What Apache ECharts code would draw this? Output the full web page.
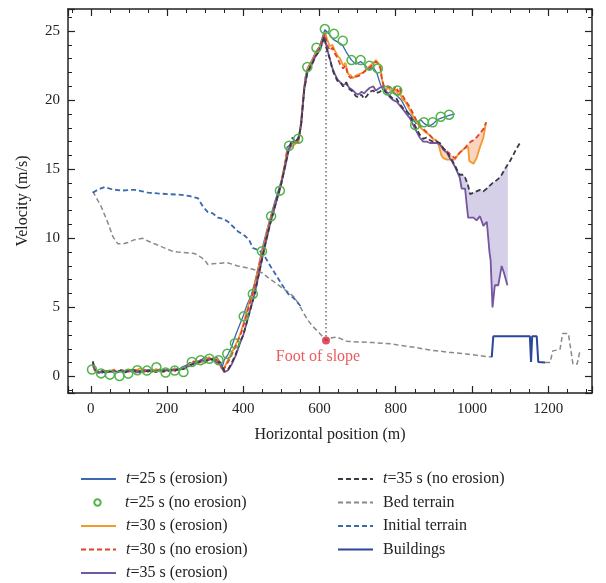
<!DOCTYPE html>
<html><head><meta charset="utf-8">
<script src="https://cdn.jsdelivr.net/npm/echarts@6/dist/echarts.min.js"></script>
<style>html,body{margin:0;padding:0;background:#fff}#c{width:606px;height:583px}</style>
</head><body><div id="c"></div>
<script>
const FONT = '"Liberation Serif", "DejaVu Serif", serif';

// ---------- DATA ----------
const t25Erosion = [[5,1.0],[10,0.5],[15,0.3],[20,0.35],[30,0.25],[40,0.4],[50,0.3],[60,0.45],[70,0.3],[80,0.5],[90,0.35],[100,0.4],[110,0.3],[120,0.5],[130,0.4],[140,0.35],[150,0.5],[160,0.4],[170,0.45],[180,0.35],[190,0.5],[200,0.45],[210,0.4],[220,0.6],[230,0.5],[240,0.7],[250,0.8],[260,1.0],[270,0.9],[280,1.1],[290,1.2],[300,1.4],[310,1.3],[320,1.2],[330,1.4],[340,1.0],[345,0.7],[350,1.2],[360,1.6],[370,2.2],[380,3.0],[390,3.7],[400,4.4],[410,5.2],[420,5.8],[430,6.8],[440,8.0],[450,9.3],[460,10.4],[470,11.4],[480,12.4],[490,13.3],[500,14.2],[510,15.5],[515,16.6],[520,16.7],[530,16.9],[540,17.1],[548,17.6],[555,19.5],[562,21.6],[568,22.3],[580,22.9],[590,23.5],[600,23.9],[607,24.5],[614,25.1],[625,24.8],[636,24.4],[648,24.2],[660,24.0],[672,23.4],[684,22.9],[696,22.6],[708,22.8],[720,22.5],[730,22.2],[740,22.4],[750,22.0],[758,21.3],[765,20.8],[780,20.5],[792,20.7],[804,20.3],[815,20.0],[830,19.2],[842,18.8],[853,18.3],[865,18.6],[875,18.3],[887,18.1],[899,18.3],[910,18.6],[919,18.7],[930,18.8],[940,18.9],[955,19.0]];

const t25NoErosion = [[3,0.5],[27,0.22],[50,0.13],[75,0.03],[98,0.2],[122,0.45],[147,0.42],[172,0.66],[196,0.28],[220,0.42],[243,0.32],[265,1.05],[288,1.18],[311,1.28],[335,1.18],[358,1.64],[378,2.4],[401,4.35],[425,5.97],[449,9.07],[473,11.6],[496,13.45],[520,16.7],[544,17.2],[568,22.4],[592,23.8],[614,25.15],[638,24.8],[661,24.3],[684,22.9],[708,22.9],[731,22.5],[753,22.3],[779,20.7],[804,20.7],[851,18.2],[874,18.4],[897,18.4],[918,18.8],[940,18.95]];

// [x, t=30 s erosion, t=30 s no erosion]
const t30Rows = [[5,0.8,0.9],[10,0.4,0.5],[20,0.25,0.3],[30,0.4,0.35],[40,0.3,0.4],[50,0.35,0.3],[60,0.5,0.45],[70,0.3,0.35],[80,0.45,0.4],[90,0.3,0.45],[100,0.5,0.35],[110,0.35,0.5],[120,0.45,0.4],[130,0.6,0.45],[140,0.35,0.5],[150,0.45,0.35],[160,0.3,0.45],[170,0.55,0.4],[180,0.4,0.5],[190,0.3,0.4],[200,0.5,0.45],[210,0.4,0.55],[220,0.55,0.4],[230,0.45,0.5],[240,0.6,0.55],[250,0.7,0.75],[260,0.9,0.8],[270,1.0,1.1],[280,1.1,1.0],[290,1.0,1.2],[300,1.2,1.1],[310,1.4,1.3],[320,1.1,1.2],[330,1.3,1.2],[340,0.9,0.8],[346,0.45,0.4],[355,0.9,0.8],[365,1.5,1.3],[375,2.0,1.9],[385,2.6,2.5],[395,3.3,3.2],[405,4.3,4.1],[415,5.3,5.1],[425,6.0,6.0],[435,7.2,7.1],[445,8.5,8.4],[455,9.6,9.5],[465,10.8,10.7],[475,11.7,11.6],[485,12.6,12.6],[495,13.5,13.4],[505,14.8,14.7],[515,16.3,16.2],[525,16.6,16.7],[535,16.8,16.9],[545,17.0,17.0],[552,18.5,18.3],[560,21.0,20.9],[568,22.2,22.1],[580,22.8,22.7],[590,23.4,23.3],[600,23.8,23.8],[607,24.3,24.3],[614,24.9,24.8],[620,24.4,24.0],[627,23.9,23.6],[634,24.0,23.8],[640,23.6,23.4],[648,23.2,23.0],[654,23.0,22.6],[662,22.5,22.3],[668,22.7,22.5],[675,21.9,21.8],[682,21.8,21.6],[688,21.6,21.7],[697,21.8,21.7],[706,21.9,21.8],[715,22.0,22.0],[724,22.3,22.2],[733,22.5,22.4],[741,22.7,22.6],[748,22.9,22.8],[754,22.7,22.6],[760,22.4,22.3],[763,21.6,21.7],[768,21.0,21.1],[772,20.7,20.9],[780,20.9,21.0],[793,20.5,20.7],[800,20.8,21.0],[807,20.3,20.6],[811,20.6,20.9],[816,20.1,20.4],[825,19.9,20.0],[837,19.3,19.5],[846,18.8,19.0],[855,18.4,18.5],[865,18.0,18.1],[877,17.7,17.8],[888,17.5,17.5],[898,17.2,17.2],[905,17.1,17.1],[912,16.8,16.9],[920,16.0,16.7],[925,15.8,16.5],[934,15.7,16.3],[942,15.7,16.1],[955,15.7,15.8],[962,16.0,16.0],[968,16.2,16.2],[980,16.5,16.5],[990,16.6,16.8],[993,15.6,16.9],[997,15.5,17.0],[1004,15.4,17.1],[1012,15.8,17.3],[1021,16.6,17.6],[1030,17.3,17.9],[1037,18.4,18.4]];

// [x, t=35 s erosion, t=35 s no erosion]
const t35Rows = [[5,1.0,1.1],[10,0.5,0.6],[15,0.4,0.35],[20,0.25,0.3],[30,0.4,0.35],[40,0.3,0.25],[50,0.35,0.4],[60,0.4,0.3],[70,0.3,0.35],[80,0.4,0.45],[90,0.35,0.3],[100,0.45,0.4],[110,0.4,0.5],[120,0.3,0.35],[130,0.4,0.3],[140,0.35,0.45],[150,0.45,0.35],[160,0.4,0.5],[170,0.35,0.3],[180,0.5,0.45],[190,0.35,0.4],[200,0.45,0.35],[210,0.4,0.5],[220,0.5,0.4],[230,0.45,0.55],[240,0.55,0.5],[250,0.7,0.6],[260,0.75,0.8],[270,1.0,0.9],[280,0.9,1.0],[290,1.2,1.1],[300,1.1,1.0],[310,1.2,1.3],[320,1.3,1.2],[330,1.0,1.1],[340,0.9,1.0],[350,0.3,0.4],[360,0.45,0.5],[370,0.9,1.0],[380,1.5,1.6],[390,2.3,2.4],[400,3.0,3.0],[410,4.0,4.0],[420,5.0,5.0],[430,6.0,6.0],[440,7.3,7.3],[450,8.6,8.6],[460,9.8,9.9],[470,11.0,11.0],[480,12.0,12.0],[490,13.0,13.0],[500,14.0,14.0],[510,15.2,15.3],[520,16.5,16.5],[529,17.0,17.3],[535,17.0,17.0],[545,17.2,17.2],[552,18.3,18.3],[560,20.8,20.8],[568,22.0,22.0],[580,22.6,22.6],[590,23.2,23.2],[600,23.6,23.6],[607,24.1,24.1],[612,24.6,24.6],[620,23.7,23.6],[627,23.0,23.0],[634,22.3,22.2],[640,21.9,21.8],[647,21.5,21.4],[654,21.3,21.3],[662,21.1,21.0],[670,21.2,21.3],[678,20.9,20.8],[688,20.7,20.6],[695,20.5,20.3],[702,20.4,20.2],[710,20.6,20.4],[717,20.5,20.1],[724,20.7,20.3],[732,20.9,20.6],[741,21.0,20.7],[748,20.7,20.5],[758,20.9,20.6],[766,21.0,20.8],[776,20.6,20.5],[785,20.2,20.3],[793,20.0,20.1],[802,19.9,20.1],[811,19.6,19.7],[820,19.3,19.4],[828,19.0,19.2],[837,18.7,18.9],[846,18.2,18.4],[855,17.7,17.9],[863,17.3,17.5],[872,17.0,17.2],[881,17.0,17.3],[890,16.9,17.1],[898,16.9,17.0],[907,16.9,17.0],[916,16.8,16.9],[925,16.4,16.5],[934,16.2,16.3],[942,15.8,15.9],[947,15.6,15.7],[955,15.2,15.3],[960,14.9,15.0],[968,14.4,14.6],[973,13.6,14.5],[977,13.6,14.6],[982,13.6,14.4],[986,12.5,14.3],[990,11.5,13.8],[995,11.5,13.2],[1004,11.5,13.3],[1012,11.3,13.4],[1021,11.6,13.5],[1030,10.9,13.4],[1039,11.2,13.6],[1046,9.0,13.8],[1049,8.4,13.9],[1054,5.0,14.0],[1060,6.6,14.1],[1069,6.6,14.3],[1078,8.0,14.6],[1084,7.5,14.9],[1093,6.6,15.3],[1100,null,15.6],[1108,null,16.0],[1115,null,16.4],[1126,null,16.9]];

const bedTerrain = [[5,13.4],[15,12.9],[27,12.3],[45,11.1],[58,10.1],[71,9.6],[85,9.6],[97,9.7],[115,9.9],[136,10.0],[150,9.8],[167,9.6],[185,9.4],[202,9.2],[215,9.05],[228,9.0],[250,8.95],[272,8.9],[285,8.7],[298,8.45],[307,8.1],[320,8.15],[342,8.2],[355,8.25],[368,8.15],[385,8.0],[403,7.9],[420,7.8],[438,7.65],[452,7.45],[465,7.15],[483,6.8],[500,6.45],[518,6.1],[535,5.7],[550,5.0],[560,4.5],[570,4.05],[583,3.6],[596,3.25],[606,2.95],[617,2.6],[632,2.8],[645,2.85],[658,2.7],[671,2.55],[700,2.5],[740,2.45],[785,2.37],[811,2.25],[850,2.1],[898,1.88],[940,1.75],[986,1.62],[1020,1.5],[1052,1.4],[1120,null],[1192,1.0],[1205,1.0],[1212,1.85],[1231,1.95],[1238,3.1],[1253,3.1],[1265,0.9],[1276,0.9],[1283,1.8]];

const initialTerrain = [[5,13.3],[20,13.55],[36,13.7],[55,13.55],[80,13.45],[100,13.5],[115,13.5],[135,13.4],[150,13.3],[175,13.25],[202,13.2],[237,13.15],[260,13.05],[281,12.9],[294,12.3],[307,11.9],[320,11.8],[333,11.5],[348,11.4],[360,11.2],[375,10.8],[386,10.5],[403,10.2],[415,9.9],[425,9.3],[443,9.1],[458,8.6],[473,7.9],[487,7.3],[500,6.7],[510,6.3],[517,6.0],[535,5.6],[550,5.1]];

const buildings = [[1052,1.4],[1056,2.9],[1152,2.9],[1155,1.05],[1158,2.9],[1170,2.9],[1174,1.05],[1192,1.0]];

const footOfSlope = [617, 2.6];
const peakVelocity = 25.1;
const fill30From = 905;
const fill35From = 942;

const names = ['t=25 s (erosion)','t=25 s (no erosion)','t=30 s (erosion)','t=30 s (no erosion)','t=35 s (erosion)','t=35 s (no erosion)','Bed terrain','Initial terrain','Buildings'];

// ---------- derived ----------
const t30E = t30Rows.map(r => [r[0], r[1]]);
const t30N = t30Rows.map(r => [r[0], r[2]]);
const t35E = t35Rows.map(r => [r[0], r[1]]);
const t35N = t35Rows.map(r => [r[0], r[2]]);
const f30 = t30Rows.filter(r => r[0] >= fill30From);
const f35 = t35Rows.filter(r => r[0] >= fill35From && r[1] != null);

const C = {
  t25e:'#3a68b2', t25n:'#52b34a', t30e:'#f19b2c', t30n:'#e2402d', t35e:'#75569f', t35n:'#3a3a46',
  bed:'#8a8a8a', init:'#3b69b0', bld:'#2b479c'
};

function ln(name, data, color, width, type, extra) {
  return Object.assign({ name, type:'line', data, symbol:'none', showSymbol:false, color,
    lineStyle:{color, width, type}, silent:true, animation:false, connectNulls:false }, extra || {});
}
function band(rows, color) {
  return { type:'custom', silent:true, animation:false, z:1, data:[[rows[0][0], rows[0][1]]],
    renderItem: (params, api) => {
      const up = rows.map(r => api.coord([r[0], r[2]]));
      const lo = rows.slice().reverse().map(r => api.coord([r[0], r[1]]));
      return { type:'polygon', shape:{points: up.concat(lo)}, style:{fill:color, stroke:color, lineWidth:0.8} };
    } };
}

const axisLine = {show:true, onZero:false, lineStyle:{color:'#222', width:1.5}};
function xAx(pos, labels) {
  return { type:'value', min:-60, max:1315, splitNumber:7, position:pos,
    axisLine, splitLine:{show:false},
    axisTick:{show:true, inside:true, length:7, lineStyle:{color:'#222', width:1.2}},
    minorTick:{show:true, splitNumber:4, length:4, lineStyle:{color:'#222', width:1}},
    axisLabel:{show:labels, color:'#222', fontFamily:FONT, fontSize:15, margin:9,
      formatter: v => (v % 200 === 0 ? String(v) : '')},
    name: labels ? 'Horizontal position (m)' : '', nameLocation:'middle', nameGap:34,
    nameTextStyle:{color:'#222', fontFamily:FONT, fontSize:16} };
}
function yAx(pos, labels) {
  return { type:'value', min:-1.2, max:26.6, splitNumber:5, position:pos,
    axisLine, splitLine:{show:false},
    axisTick:{show:true, inside:true, length:7, lineStyle:{color:'#222', width:1.2}},
    minorTick:{show:true, splitNumber:5, length:4, lineStyle:{color:'#222', width:1}},
    axisLabel:{show:labels, color:'#222', fontFamily:FONT, fontSize:15, margin:8,
      formatter: v => (Math.abs(v % 5) < 1e-9 ? String(v) : '')},
    name: labels ? 'Velocity (m/s)' : '', nameLocation:'middle', nameGap:37,
    nameTextStyle:{color:'#222', fontFamily:FONT, fontSize:16} };
}

const legText = { fontFamily:FONT, fontSize:16, color:'#222', lineHeight:16, padding:[0,0,0,5],
  rich:{ it:{ fontStyle:'italic', fontFamily:FONT, fontSize:16, color:'#222', lineHeight:16 } } };
function leg(data, left, top, itemHeight, hideSymbol) {
  const o = { data, left, top, orient:'vertical', itemWidth:35, itemHeight, itemGap:7.5, padding:0,
    selectedMode:false, textStyle:legText,
    formatter: n => n.startsWith('t=') ? '{it|t}' + n.slice(1) : n };
  if (hideSymbol) o.itemStyle = {opacity:0};
  return o;
}

const series = [
  band(f30, '#fbd4bf'),
  band(f35, '#d5cfe8'),
  // terrain
  ln(names[6], bedTerrain, C.bed, 1.5, [5,3]),
  ln(names[7], initialTerrain, C.init, 1.8, [5,3]),
  ln(names[8], buildings, C.bld, 2),
  ln('', [[footOfSlope[0], footOfSlope[1]], [footOfSlope[0], peakVelocity]], '#777', 1.6, [1.6,2.4]),
  // velocity
  ln(names[0], t25Erosion, C.t25e, 1.3),
  ln(names[1], t25NoErosion, C.t25n, 0, 'solid', {symbol:'circle', showSymbol:true, symbolSize:9,
      lineStyle:{width:0, opacity:0}, itemStyle:{color:'rgba(255,255,255,0)', borderColor:C.t25n, borderWidth:1.5}}),
  ln(names[2], t30E, C.t30e, 1.8),
  ln(names[3], t30N, C.t30n, 1.8, [5,3]),
  ln(names[4], t35E, C.t35e, 1.8),
  ln(names[5], t35N, C.t35n, 1.8, [5,3]),
  { type:'scatter', data:[footOfSlope], symbolSize:8, itemStyle:{color:'#d8283a'}, silent:true, animation:false, z:5,
    label:{show:true, position:'bottom', distance:4, offset:[-8,0], formatter:'Foot of slope',
      color:'#e53338', fontFamily:FONT, fontSize:16} }
];

const chart = echarts.init(document.getElementById('c'), null, {renderer:'canvas'});
chart.setOption({
  animation:false,
  backgroundColor:'#fff',
  grid:{left:68, right:14, top:9, bottom:190, containLabel:false},
  xAxis:[xAx('bottom', true), xAx('top', false)],
  yAxis:[yAx('left', true), yAx('right', false)],
  legend:[
    leg([names[0]], 80, 471, 14, true),
    leg([names[1]], 80, 494.5, 8, false),
    leg([names[2], names[3], names[4]], 80, 518, 14, true),
    leg([names[5], names[6], names[7], names[8]], 337, 471, 14, true)
  ],
  series
});
</script></body></html>
